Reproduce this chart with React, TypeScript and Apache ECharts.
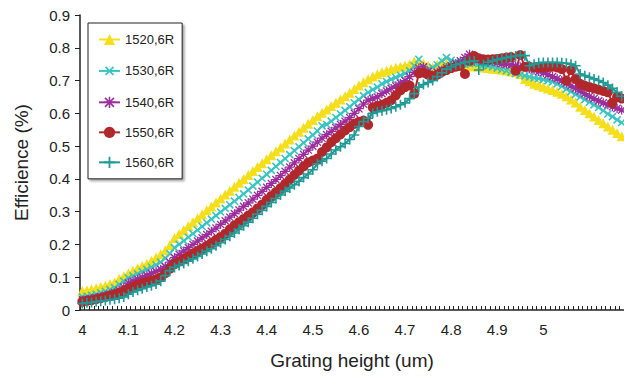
import React, { useEffect, useRef } from 'react';
import * as echarts from 'echarts';

// Grating height categories 4.00 .. 5.17 (step 0.01)
const categories: string[] = Array.from({ length: 118 }, (_, i) => (4 + i / 100).toFixed(2));

const seriesNames = ['1520,6R', '1530,6R', '1540,6R', '1550,6R', '1560,6R'];

const eff1520 = [
  0.058, 0.060, 0.063, 0.066, 0.070, 0.074, 0.079, 0.084, 0.095, 0.103,
  0.112, 0.120, 0.127, 0.134, 0.141, 0.150, 0.160, 0.170, 0.182, 0.198,
  0.220, 0.232, 0.244, 0.256, 0.268, 0.280, 0.292, 0.304, 0.316, 0.328,
  0.340, 0.352, 0.364, 0.376, 0.388, 0.400, 0.412, 0.424, 0.436, 0.448,
  0.460, 0.472, 0.484, 0.496, 0.508, 0.520, 0.532, 0.544, 0.556, 0.568,
  0.580, 0.591, 0.602, 0.612, 0.622, 0.632, 0.642, 0.652, 0.663, 0.674,
  0.685, 0.695, 0.704, 0.712, 0.719, 0.725, 0.730, 0.735, 0.739, 0.742,
  0.745, 0.750, 0.758, 0.755, 0.752, 0.745, 0.740, 0.748, 0.755, 0.752,
  0.748, 0.746, 0.745, 0.745, 0.744, 0.744, 0.742, 0.740, 0.738, 0.736,
  0.735, 0.733, 0.731, 0.728, 0.725, 0.720, 0.705, 0.698, 0.690, 0.686,
  0.681, 0.676, 0.671, 0.666, 0.660, 0.652, 0.642, 0.633, 0.620, 0.610,
  0.600, 0.590, 0.580, 0.570, 0.560, 0.550, 0.540, 0.530,
];

const eff1530 = [
  0.040, 0.042, 0.045, 0.048, 0.052, 0.057, 0.062, 0.068, 0.078, 0.088,
  0.098, 0.104, 0.110, 0.117, 0.124, 0.131, 0.138, 0.146, 0.158, 0.172,
  0.190, 0.200, 0.211, 0.222, 0.233, 0.244, 0.255, 0.266, 0.277, 0.288,
  0.299, 0.310, 0.321, 0.332, 0.343, 0.354, 0.366, 0.378, 0.390, 0.402,
  0.414, 0.426, 0.438, 0.450, 0.462, 0.474, 0.486, 0.498, 0.510, 0.522,
  0.534, 0.546, 0.562, 0.566, 0.576, 0.587, 0.598, 0.609, 0.620, 0.632,
  0.642, 0.654, 0.664, 0.672, 0.680, 0.690, 0.697, 0.704, 0.710, 0.716,
  0.722, 0.730, 0.745, 0.765, 0.740, 0.733, 0.740, 0.748, 0.760, 0.770,
  0.762, 0.756, 0.752, 0.750, 0.752, 0.755, 0.752, 0.748, 0.745, 0.742,
  0.738, 0.734, 0.730, 0.726, 0.722, 0.718, 0.714, 0.711, 0.708, 0.706,
  0.703, 0.700, 0.696, 0.690, 0.682, 0.674, 0.666, 0.658, 0.650, 0.642,
  0.634, 0.626, 0.618, 0.608, 0.598, 0.590, 0.580, 0.572,
];

const eff1540 = [
  0.030, 0.032, 0.034, 0.037, 0.040, 0.044, 0.048, 0.053, 0.060, 0.070,
  0.082, 0.088, 0.094, 0.100, 0.106, 0.112, 0.118, 0.124, 0.133, 0.146,
  0.160, 0.170, 0.180, 0.190, 0.200, 0.210, 0.220, 0.230, 0.240, 0.250,
  0.261, 0.272, 0.283, 0.294, 0.305, 0.316, 0.327, 0.338, 0.350, 0.362,
  0.374, 0.386, 0.398, 0.410, 0.423, 0.436, 0.449, 0.462, 0.475, 0.488,
  0.500, 0.512, 0.524, 0.535, 0.545, 0.556, 0.566, 0.576, 0.587, 0.600,
  0.614, 0.628, 0.640, 0.645, 0.650, 0.660, 0.668, 0.676, 0.684, 0.692,
  0.700, 0.712, 0.725, 0.738, 0.742, 0.728, 0.717, 0.725, 0.732, 0.739,
  0.745, 0.752, 0.760, 0.770, 0.780, 0.770, 0.765, 0.762, 0.760, 0.758,
  0.755, 0.752, 0.750, 0.748, 0.745, 0.742, 0.740, 0.736, 0.732, 0.728,
  0.724, 0.718, 0.712, 0.706, 0.700, 0.692, 0.684, 0.676, 0.668, 0.660,
  0.652, 0.645, 0.638, 0.632, 0.626, 0.620, 0.615, 0.610,
];

const eff1550 = [
  0.025, 0.028, 0.030, 0.033, 0.036, 0.040, 0.044, 0.048, 0.053, 0.058,
  0.064, 0.070, 0.077, 0.082, 0.086, 0.090, 0.094, 0.100, 0.112, 0.126,
  0.140, 0.148, 0.156, 0.164, 0.172, 0.180, 0.188, 0.196, 0.205, 0.214,
  0.223, 0.233, 0.246, 0.258, 0.268, 0.278, 0.288, 0.298, 0.310, 0.322,
  0.336, 0.348, 0.360, 0.372, 0.385, 0.398, 0.412, 0.425, 0.438, 0.450,
  0.456, 0.462, 0.482, 0.496, 0.512, 0.524, 0.536, 0.548, 0.558, 0.568,
  0.574, 0.578, 0.565, 0.618, 0.622, 0.626, 0.632, 0.640, 0.655, 0.670,
  0.680, 0.685, 0.660, 0.722, 0.724, 0.718, 0.712, 0.718, 0.726, 0.732,
  0.738, 0.742, 0.745, 0.720, 0.760, 0.775, 0.768, 0.765, 0.764, 0.765,
  0.766, 0.768, 0.770, 0.772, 0.730, 0.778, 0.742, 0.742, 0.740, 0.740,
  0.740, 0.741, 0.742, 0.740, 0.735, 0.700, 0.732, 0.705, 0.690, 0.684,
  0.680, 0.676, 0.672, 0.668, 0.664, 0.632, 0.650, 0.645,
];

const eff1560 = [
  0.020, 0.022, 0.023, 0.025, 0.027, 0.029, 0.031, 0.033, 0.036, 0.040,
  0.048, 0.055, 0.060, 0.065, 0.070, 0.074, 0.079, 0.088, 0.105, 0.120,
  0.130, 0.136, 0.142, 0.149, 0.156, 0.163, 0.171, 0.179, 0.187, 0.196,
  0.205, 0.215, 0.225, 0.235, 0.246, 0.257, 0.268, 0.280, 0.292, 0.304,
  0.316, 0.328, 0.340, 0.351, 0.362, 0.372, 0.382, 0.393, 0.404, 0.415,
  0.428, 0.446, 0.454, 0.462, 0.476, 0.488, 0.498, 0.508, 0.520, 0.534,
  0.560, 0.575, 0.585, 0.600, 0.605, 0.608, 0.611, 0.615, 0.620, 0.626,
  0.632, 0.645, 0.660, 0.680, 0.688, 0.694, 0.700, 0.712, 0.724, 0.735,
  0.742, 0.748, 0.752, 0.755, 0.758, 0.760, 0.732, 0.748, 0.756, 0.760,
  0.764, 0.767, 0.770, 0.773, 0.775, 0.778, 0.776, 0.745, 0.750, 0.754,
  0.755, 0.755, 0.755, 0.755, 0.754, 0.753, 0.750, 0.745, 0.720, 0.715,
  0.710, 0.705, 0.700, 0.694, 0.686, 0.676, 0.664, 0.652,
];

const xLabelStep = 10;
const xLabelLastIndex = 100;

const PLUS = 'path://M4.2,0H5.8V4.2H10V5.8H5.8V10H4.2V5.8H0V4.2H4.2Z';
const STAR =
  'path://M4.3,0H5.7V4.3H10V5.7H5.7V10H4.3V5.7H0V4.3H4.3Z M1.5,0.5L5,4L8.5,0.5L9.5,1.5L6,5L9.5,8.5L8.5,9.5L5,6L1.5,9.5L0.5,8.5L4,5L0.5,1.5Z';

const seriesStyles = [
  { color: '#f5df1c', symbol: 'triangle', size: 10, rotate: 0 },
  { color: '#38c4c2', symbol: PLUS, size: 10, rotate: 45 },
  { color: '#9c2e9c', symbol: STAR, size: 9, rotate: 0 },
  { color: '#b0282b', symbol: 'circle', size: 10, rotate: 0 },
  { color: '#1f9a96', symbol: PLUS, size: 10, rotate: 0 },
];

const seriesData = [eff1520, eff1530, eff1540, eff1550, eff1560];

export default function App() {
  const ref = useRef<HTMLDivElement>(null);
  useEffect(() => {
    if (!ref.current) return;
    const chart = echarts.init(ref.current, undefined, { renderer: 'svg' });
    const font = '"Liberation Sans", Arial, sans-serif';
    const txt = '#222';
    chart.setOption({
      animation: false,
      textStyle: { fontFamily: font },
      grid: { left: 80, right: 0, top: 15, bottom: 70 },
      legend: {
        orient: 'vertical',
        left: 88,
        top: 23,
        padding: [10, 8, 10, 10],
        itemGap: 17,
        itemWidth: 21,
        itemHeight: 14,
        borderColor: '#222',
        borderWidth: 1,
        backgroundColor: '#fff',
        shadowColor: 'rgba(0,0,0,0.35)',
        shadowBlur: 2,
        shadowOffsetX: 2,
        shadowOffsetY: 2,
        textStyle: { fontSize: 13, color: txt, fontFamily: font },
        data: seriesNames,
      },
      xAxis: {
        type: 'category',
        data: categories,
        boundaryGap: true,
        axisLine: { lineStyle: { color: '#222', width: 1.5 } },
        axisTick: { show: true, inside: true, length: 4, interval: 0, lineStyle: { color: '#222' } },
        axisLabel: {
          interval: (i: number) => i % xLabelStep === 0 && i <= xLabelLastIndex,
          formatter: (v: string) => String(Number(v)),
          fontSize: 15,
          color: txt,
          margin: 12,
        },
        splitLine: { show: false },
        name: 'Grating height (um)',
        nameLocation: 'middle',
        nameGap: 41,
        nameTextStyle: { fontSize: 19, color: txt },
      },
      yAxis: {
        type: 'value',
        min: 0,
        max: 0.9,
        interval: 0.1,
        axisLine: { show: true, lineStyle: { color: '#222', width: 1.5 } },
        axisTick: { show: true, inside: false, length: 5, lineStyle: { color: '#222' } },
        axisLabel: { fontSize: 15, color: txt, margin: 10 },
        splitLine: { show: false },
        name: 'Efficience (%)',
        nameLocation: 'middle',
        nameGap: 49,
        nameTextStyle: { fontSize: 19, color: txt },
      },
      series: seriesData.map((d, k) => ({
        name: seriesNames[k],
        type: 'line',
        data: d,
        symbol: seriesStyles[k].symbol,
        symbolSize: seriesStyles[k].size,
        symbolRotate: seriesStyles[k].rotate,
        showAllSymbol: true,
        lineStyle: { width: 2, color: seriesStyles[k].color },
        itemStyle: { color: seriesStyles[k].color },
        emphasis: { disabled: true },
      })),
    });
    return () => chart.dispose();
  }, []);
  return <div ref={ref} style={{ width: 624, height: 380, position: 'absolute', left: 0, top: 0 }} />;
}
